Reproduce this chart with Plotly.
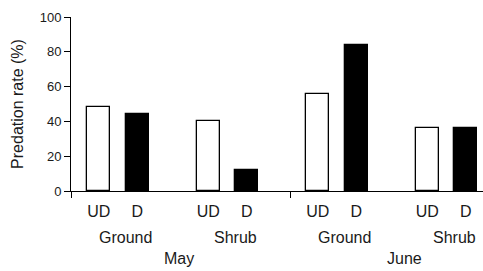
import plotly.graph_objects as go

months = ["May", "June"]
sites = ["Ground", "Shrub"]
treatments = ["UD", "D"]
# values per (month, site): [UD, D]
values = {
    ("May", "Ground"): [48, 44],
    ("May", "Shrub"): [40, 12],
    ("June", "Ground"): [56, 84],
    ("June", "Shrub"): [36, 36],
}
y_ticks = [0, 20, 40, 60, 80, 100]

FONT = "Liberation Sans, Arial, sans-serif"
TXT = "#1a1a1a"
GROUP_STEP = 2.837
BAR_W = 0.6

fills = {"UD": "white", "D": "black"}
xs = {t: [] for t in treatments}
ys = {t: [] for t in treatments}
all_x, all_lab = [], []
group_centers = []
g = 0
for m in months:
    for s in sites:
        for ti, t in enumerate(treatments):
            xv = g * GROUP_STEP + ti
            xs[t].append(xv)
            ys[t].append(values[(m, s)][ti])
            all_x.append(xv)
            all_lab.append(t)
        group_centers.append((m, s, g * GROUP_STEP + 0.5))
        g += 1

fig = go.Figure()
for t in treatments:
    fig.add_trace(go.Bar(
        x=xs[t], y=ys[t], width=BAR_W, name=t,
        marker=dict(color=fills[t], line=dict(color="black", width=1.3)),
        showlegend=False,
    ))

x_min = -0.718
x_max = 9.956
month_span = 2 * GROUP_STEP
boundaries = [x_min, x_min + month_span]

annotations = []
for m, s, c in group_centers:
    annotations.append(dict(x=c + 0.2, y=-0.268, xref="x", yref="paper", text=s,
                            showarrow=False, font=dict(size=16, color=TXT, family=FONT),
                            xanchor="center", yanchor="middle"))
for mi, m in enumerate(months):
    cs = [c for mm, s, c in group_centers if mm == m]
    c = sum(cs) / len(cs)
    annotations.append(dict(x=c + 0.16 + 0.16 * mi, y=-0.388, xref="x", yref="paper", text=m,
                            showarrow=False, font=dict(size=16, color=TXT, family=FONT),
                            xanchor="center", yanchor="middle"))

fig.update_layout(
    width=483, height=271,
    margin=dict(l=71, r=0, t=17, b=80),
    paper_bgcolor="white", plot_bgcolor="white",
    font=dict(family=FONT, color=TXT),
    bargap=0,
    annotations=annotations,
    xaxis=dict(
        range=[x_min, x_max], showgrid=False, zeroline=False,
        showline=True, linecolor="black", linewidth=1,
        tickmode="array", tickvals=all_x, ticktext=all_lab,
        ticks="", ticklabelstandoff=6,
        tickfont=dict(size=16, color=TXT, family=FONT),
        minor=dict(tickmode="array", tickvals=boundaries, ticks="outside",
                   ticklen=6, tickcolor="black", tickwidth=1),
    ),
    yaxis=dict(
        range=[0, 100], showgrid=False, zeroline=False,
        showline=True, linecolor="black", linewidth=1,
        tickmode="array", tickvals=y_ticks,
        ticks="outside", ticklen=6, tickcolor="black",
        tickfont=dict(size=13, color=TXT, family=FONT),
        title=dict(text="Predation rate (%)", font=dict(size=16, color=TXT, family=FONT), standoff=12),
        automargin=False,
    ),
)

fig.write_html("out.html", config={"displayModeBar": False},
               post_script="document.body.style.margin='0';")
